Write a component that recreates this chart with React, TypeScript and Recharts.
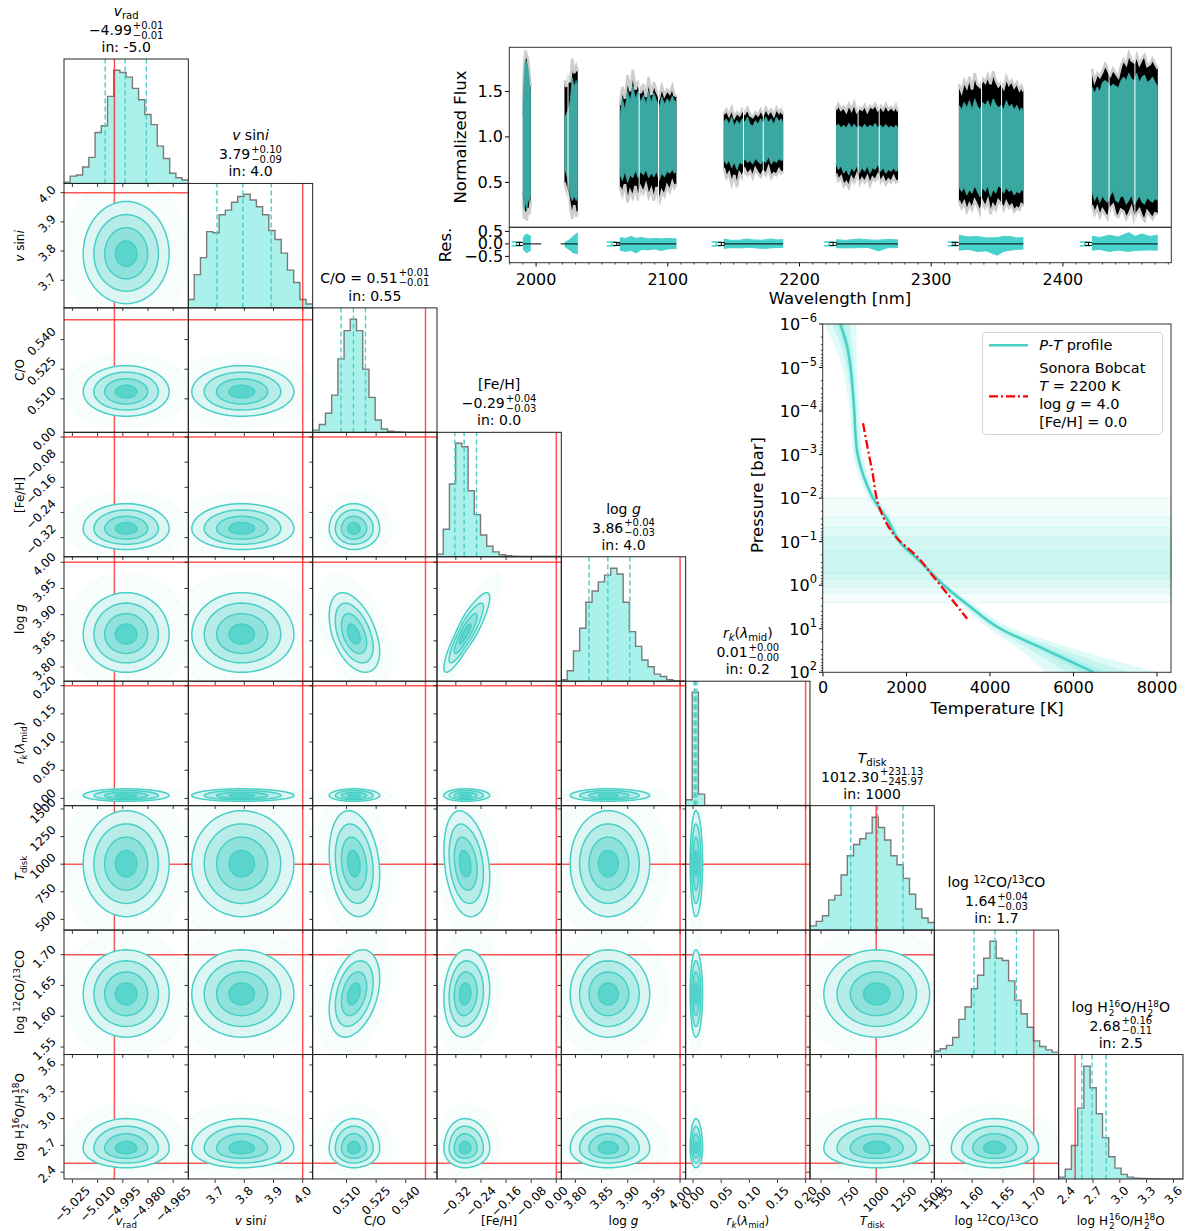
import React from 'react';
import {
  ComposedChart, ScatterChart, Area, Line, Scatter, XAxis, YAxis,
  ReferenceLine, ReferenceArea, ErrorBar,
} from 'recharts';

const FONT = '"DejaVu Sans", Verdana, sans-serif';
const TURQ = '#40E0D0';
const LINE_TURQ = '#48cfc6';
const HIST_EDGE = '#7a7a7a';
const RED = '#ff1a1a';

// ---------------- corner plot ----------------
const PARAMS = ['vrad', 'vsini', 'co', 'feh', 'logg', 'rk', 'tdisk', 'coiso', 'h2o'];

const AXIS_RANGE = [
  [-5.030, -4.956], [3.607, 4.033], [0.493, 0.556], [-0.38, 0.016], [3.7725, 4.010],
  [-0.0125, 0.2084], [400, 1527], [1.538, 1.740], [2.319, 3.711],
];
const TRUTH = [-5.0, 4.0, 0.55, 0.0, 4.0, 0.2, 1000, 1.7, 2.5];
const QUANTILES = [
  [-5.0055, -4.9936, -4.981], [3.706, 3.795, 3.892], [0.5072, 0.5135, 0.5196],
  [-0.323, -0.2935, -0.254], [3.826, 3.862, 3.904], [0.002, 0.004, 0.007],
  [769, 1012, 1243], [1.603, 1.637, 1.672], [2.574, 2.689, 2.847],
];
const TICKS = [
  [-5.025, -5.010, -4.995, -4.980, -4.965], [3.7, 3.8, 3.9, 4.0], [0.510, 0.525, 0.540],
  [-0.32, -0.24, -0.16, -0.08, 0.0], [3.80, 3.85, 3.90, 3.95, 4.00], [0.0, 0.05, 0.10, 0.15, 0.20],
  [500, 750, 1000, 1250, 1500], [1.55, 1.60, 1.65, 1.70], [2.4, 2.7, 3.0, 3.3, 3.6],
];
const DIGITS = [3, 1, 3, 2, 2, 2, 0, 2, 1];

// 20-bin histograms, relative heights (tallest = 100)
const HIST_VRAD = [1.2, 6.5, 7.4, 14.5, 23, 45, 51, 77, 100, 98, 94, 84, 74, 61, 52, 33, 22, 9, 5, 3];
const HIST_VSINI = [7, 29, 44, 67, 66, 82, 86, 93, 98, 100, 95, 89, 82, 68, 60, 48, 33, 22, 7, 3];
const HIST_CO = [2, 7, 17, 33, 65, 90, 100, 90, 56, 31, 11, 3, 1, 0.5, 0.3, 0, 0, 0, 0, 0];
const HIST_FEH = [2, 24, 64, 100, 97, 58, 37, 19, 9, 4, 1.5, 0.6, 0.3, 0, 0, 0, 0, 0, 0, 0];
const HIST_LOGG = [1.5, 9.5, 27, 47, 70, 80, 88, 94, 100, 95, 70, 44, 31, 19, 13, 6.5, 4.4, 1.5, 0.5, 0.2];
const HIST_RK = [5, 100, 10, 0, 0, 0, 0, 0, 0, 0, 0, 0, 0, 0, 0, 0, 0, 0, 0, 0];
const HIST_TDISK = [4, 8, 13, 27, 31, 49, 66, 76, 81, 86, 100, 91, 80, 66, 58, 46, 32, 19, 11, 7];
const HIST_COISO = [3, 5, 8, 15, 31, 42, 58, 70, 85, 100, 85, 83, 65, 48, 36, 24, 12, 7, 4, 2];
const HIST_H2O = [2, 9, 30, 63, 100, 81, 58, 37, 20, 10, 4.5, 2, 1.2, 0.9, 0.6, 0.4, 0.3, 0.2, 0.1, 0.1];
const HISTS = [HIST_VRAD, HIST_VSINI, HIST_CO, HIST_FEH, HIST_LOGG, HIST_RK, HIST_TDISK, HIST_COISO, HIST_H2O];

// 2D posterior summary used for the contours
const CONTOUR_CENTER = [-4.993, 3.79, 0.5136, -0.292, 3.862, 0.005, 1005, 1.636, 2.66];
const CONTOUR_SIG_LO = [0.0128, 0.085, 0.0062, 0.033, 0.036, 0.005, 240, 0.035, 0.105];
const CONTOUR_SIG_HI = [0.0128, 0.09, 0.0066, 0.040, 0.040, 0.006, 240, 0.036, 0.17];
const CORRELATIONS = [
  { x: 'feh', y: 'logg', rho: 0.88 },
  { x: 'co', y: 'logg', rho: -0.45 },
  { x: 'co', y: 'tdisk', rho: -0.2 },
  { x: 'feh', y: 'tdisk', rho: -0.25 },
  { x: 'co', y: 'coiso', rho: 0.35 },
  { x: 'feh', y: 'coiso', rho: 0.1 },
];

const MEDIAN_TEXT = ['−4.99', '3.79', '0.51', '−0.29', '3.86', '0.01', '1012.30', '1.64', '2.68'];
const ERR_UP = ['+0.01', '+0.10', '+0.01', '+0.04', '+0.04', '+0.00', '+231.13', '+0.04', '+0.16'];
const ERR_DN = ['−0.01', '−0.09', '−0.01', '−0.03', '−0.03', '−0.00', '−245.97', '−0.03', '−0.11'];
const IN_TEXT = ['-5.0', '4.0', '0.55', '0.0', '4.0', '0.2', '1000', '1.7', '2.5'];

// ---------------- spectrum ----------------
// [wavelength, data lo, data hi, model lo, model hi]
const ORDER_A = [
  [1990, 0.3, 1.4, 0.4, 1.25], [1991, 0.1, 1.8, 0.22, 1.7], [1992, 0.18, 1.95, 0.28, 1.85],
  [1993, 0.08, 1.9, 0.2, 1.8], [1994, 0.22, 1.85, 0.32, 1.75], [1995, 0.15, 1.7, 0.28, 1.6],
  [1996, 0.3, 1.55, 0.4, 1.45],
];
const ORDER_B = [
  [2021.6, 0.5, 1.62, 0.65, 1.2], [2023, 0.42, 1.55, 0.6, 1.25], [2024.5, 0.35, 1.66, 0.5, 1.3],
  [2026, 0.22, 1.6, 0.35, 1.4], [2027.5, 0.1, 1.86, 0.3, 1.65], [2029, 0.25, 1.7, 0.35, 1.55],
  [2030.5, 0.12, 1.78, 0.3, 1.62], [2031.7, 0.18, 1.72, 0.35, 1.55],
];
const ORDER_C = [
  [2063.6, 0.45, 1.35, 0.6, 1.2], [2065.5, 0.36, 1.55, 0.52, 1.42], [2067.5, 0.48, 1.42, 0.62, 1.3],
  [2069.5, 0.28, 1.68, 0.5, 1.5], [2071.5, 0.4, 1.5, 0.58, 1.4], [2073.5, 0.33, 1.74, 0.55, 1.56],
  [2075.5, 0.46, 1.52, 0.63, 1.42], [2077.5, 0.3, 1.62, 0.55, 1.5], [2079.5, 0.44, 1.48, 0.62, 1.38],
  [2081.5, 0.38, 1.58, 0.58, 1.46], [2083.5, 0.47, 1.44, 0.64, 1.36], [2085.5, 0.34, 1.66, 0.55, 1.5],
  [2087.5, 0.42, 1.46, 0.6, 1.38], [2089.5, 0.3, 1.6, 0.56, 1.48], [2091.5, 0.45, 1.5, 0.62, 1.4],
  [2093.5, 0.26, 1.44, 0.52, 1.32], [2095.5, 0.4, 1.56, 0.6, 1.44], [2097.5, 0.35, 1.46, 0.56, 1.36],
  [2099.5, 0.46, 1.52, 0.62, 1.42], [2101.5, 0.4, 1.48, 0.6, 1.38], [2103.5, 0.5, 1.56, 0.64, 1.45],
  [2105, 0.44, 1.46, 0.6, 1.4], [2106.6, 0.48, 1.45, 0.62, 1.38],
];
const ORDER_D = [
  [2142.5, 0.66, 1.25, 0.75, 1.16], [2144.5, 0.55, 1.3, 0.7, 1.2], [2146.5, 0.6, 1.24, 0.74, 1.14],
  [2148.5, 0.48, 1.32, 0.66, 1.22], [2150.5, 0.58, 1.22, 0.72, 1.12], [2152.5, 0.45, 1.27, 0.64, 1.18],
  [2154.5, 0.6, 1.24, 0.72, 1.14], [2156.5, 0.55, 1.3, 0.7, 1.2], [2158.5, 0.64, 1.26, 0.76, 1.16],
  [2160.5, 0.58, 1.32, 0.72, 1.22], [2162.5, 0.62, 1.24, 0.74, 1.14], [2164.5, 0.55, 1.22, 0.7, 1.12],
  [2166.5, 0.65, 1.27, 0.76, 1.18], [2168.5, 0.6, 1.24, 0.73, 1.14], [2170.5, 0.56, 1.3, 0.7, 1.2],
  [2172.5, 0.62, 1.25, 0.74, 1.15], [2174.5, 0.58, 1.32, 0.72, 1.22], [2176.5, 0.66, 1.26, 0.78, 1.16],
  [2178.5, 0.55, 1.3, 0.7, 1.2], [2180.5, 0.6, 1.24, 0.74, 1.14], [2182.5, 0.58, 1.32, 0.72, 1.22],
  [2184.5, 0.64, 1.27, 0.76, 1.17], [2186, 0.6, 1.3, 0.74, 1.2], [2187.6, 0.62, 1.25, 0.75, 1.15],
];
const ORDER_E = [
  [2227.7, 0.6, 1.3, 0.7, 1.12], [2229.5, 0.52, 1.36, 0.64, 1.14], [2231.5, 0.56, 1.3, 0.68, 1.1],
  [2233.5, 0.46, 1.33, 0.6, 1.13], [2235.5, 0.5, 1.28, 0.64, 1.1], [2237.5, 0.44, 1.36, 0.58, 1.15],
  [2239.5, 0.55, 1.3, 0.66, 1.1], [2241.5, 0.5, 1.38, 0.62, 1.14], [2243.5, 0.58, 1.28, 0.68, 1.1],
  [2245.5, 0.48, 1.32, 0.6, 1.12], [2247.5, 0.54, 1.3, 0.66, 1.1], [2249.5, 0.5, 1.35, 0.62, 1.14],
  [2251.5, 0.56, 1.28, 0.68, 1.1], [2253.5, 0.47, 1.34, 0.6, 1.13], [2255.5, 0.55, 1.32, 0.66, 1.11],
  [2257.5, 0.52, 1.36, 0.64, 1.15], [2259.5, 0.58, 1.3, 0.7, 1.1], [2261.5, 0.5, 1.34, 0.62, 1.13],
  [2263.5, 0.55, 1.3, 0.66, 1.1], [2265.5, 0.48, 1.36, 0.6, 1.14], [2267.5, 0.53, 1.3, 0.64, 1.1],
  [2269.5, 0.5, 1.33, 0.62, 1.12], [2271.5, 0.56, 1.3, 0.66, 1.1], [2273.2, 0.5, 1.35, 0.62, 1.13],
  [2274.8, 0.52, 1.28, 0.64, 1.1],
];
const ORDER_F = [
  [2321, 0.3, 1.58, 0.45, 1.35], [2323, 0.22, 1.5, 0.4, 1.3], [2325, 0.28, 1.62, 0.44, 1.38],
  [2327, 0.18, 1.55, 0.36, 1.32], [2329, 0.26, 1.66, 0.42, 1.4], [2331, 0.2, 1.52, 0.38, 1.3],
  [2333, 0.3, 1.7, 0.46, 1.42], [2335, 0.24, 1.58, 0.4, 1.34], [2337, 0.16, 1.55, 0.34, 1.3],
  [2339, 0.28, 1.64, 0.44, 1.38], [2341, 0.22, 1.6, 0.4, 1.35], [2343, 0.3, 1.68, 0.46, 1.4],
  [2345, 0.15, 1.58, 0.34, 1.32], [2347, 0.25, 1.72, 0.42, 1.42], [2349, 0.2, 1.62, 0.38, 1.36],
  [2351, 0.3, 1.56, 0.46, 1.32], [2353, 0.26, 1.6, 0.44, 1.35], [2355, 0.2, 1.54, 0.38, 1.3],
  [2357, 0.28, 1.66, 0.44, 1.4], [2359, 0.22, 1.58, 0.4, 1.33], [2361, 0.25, 1.62, 0.42, 1.36],
  [2363, 0.18, 1.55, 0.36, 1.3], [2365, 0.22, 1.6, 0.4, 1.35], [2367, 0.2, 1.52, 0.38, 1.28],
  [2368.5, 0.26, 1.56, 0.42, 1.32], [2370, 0.24, 1.5, 0.4, 1.28],
];
const ORDER_G = [
  [2422, 0.25, 1.75, 0.4, 1.55], [2424, 0.15, 1.62, 0.3, 1.48], [2426, 0.22, 1.7, 0.36, 1.55],
  [2428, 0.12, 1.66, 0.28, 1.5], [2430, 0.2, 1.72, 0.35, 1.6], [2432, 0.15, 1.8, 0.3, 1.62],
  [2434, 0.1, 1.74, 0.28, 1.6], [2436, 0.22, 1.68, 0.36, 1.55], [2438, 0.25, 1.75, 0.4, 1.58],
  [2440, 0.14, 1.7, 0.3, 1.56], [2442, 0.12, 1.66, 0.28, 1.54], [2444, 0.2, 1.78, 0.35, 1.62],
  [2446, 0.18, 1.85, 0.34, 1.66], [2448, 0.1, 1.8, 0.26, 1.62], [2450, 0.15, 1.92, 0.3, 1.7],
  [2452, 0.22, 1.84, 0.36, 1.64], [2454, 0.08, 1.82, 0.25, 1.62], [2456, 0.16, 1.9, 0.3, 1.7],
  [2458, 0.2, 1.8, 0.35, 1.6], [2460, 0.12, 1.86, 0.28, 1.66], [2462, 0.08, 1.9, 0.26, 1.68],
  [2464, 0.18, 1.78, 0.33, 1.6], [2466, 0.14, 1.8, 0.3, 1.62], [2468, 0.1, 1.86, 0.28, 1.66],
  [2470, 0.16, 1.8, 0.32, 1.6], [2472, 0.15, 1.75, 0.3, 1.55],
];
const ORDERS = [ORDER_A, ORDER_B, ORDER_C, ORDER_D, ORDER_E, ORDER_F, ORDER_G];
const DETECTOR_GAPS = [2024.3, 2078.3, 2093, 2157.5, 2172.5, 2244.5, 2260.5, 2338.2, 2353.4, 2435, 2454.6];

// residuals: [wavelength, lo, hi]
const RESID = [
  [[1990, -0.2, 0.2], [1991.5, -0.3, 0.35], [1993, -0.35, 0.4], [1994.5, -0.3, 0.35], [1996, -0.25, 0.3]],
  [[2021.6, -0.1, 0.05], [2025, -0.22, 0.15], [2028, -0.35, 0.3], [2031.7, -0.4, 0.45]],
  [[2063.6, -0.25, 0.25], [2068, -0.3, 0.22], [2072, -0.26, 0.3], [2076, -0.36, 0.22], [2080, -0.22, 0.26], [2085, -0.24, 0.2], [2090, -0.2, 0.22], [2095, -0.26, 0.2], [2100, -0.2, 0.22], [2106.6, -0.18, 0.2]],
  [[2142.5, -0.18, 0.2], [2148, -0.15, 0.14], [2155, -0.16, 0.15], [2160, -0.14, 0.2], [2165, -0.15, 0.16], [2172, -0.18, 0.15], [2178, -0.16, 0.2], [2183, -0.14, 0.16], [2187.6, -0.15, 0.17]],
  [[2227.7, -0.15, 0.17], [2235, -0.16, 0.14], [2245, -0.15, 0.2], [2252, -0.14, 0.16], [2260, -0.28, 0.15], [2267, -0.15, 0.18], [2274.8, -0.15, 0.16]],
  [[2321, -0.25, 0.35], [2328, -0.22, 0.28], [2335, -0.3, 0.3], [2342, -0.28, 0.24], [2350, -0.45, 0.25], [2355, -0.3, 0.3], [2360, -0.25, 0.3], [2365, -0.22, 0.24], [2370, -0.2, 0.25]],
  [[2422, -0.25, 0.3], [2428, -0.22, 0.26], [2435, -0.3, 0.35], [2442, -0.25, 0.28], [2450, -0.3, 0.45], [2455, -0.26, 0.3], [2460, -0.25, 0.4], [2466, -0.24, 0.3], [2472, -0.25, 0.35]],
];
const ZERO_SEGMENTS = [[1990, 2004], [2018.6, 2031.7], [2062, 2106.6], [2142.5, 2187.6], [2227.7, 2274.8], [2321, 2370], [2422, 2472]];
const ERR_DATA = [1987.4, 2061.2, 2140.7, 2225.5, 2318.2, 2419.4];
const ERR_MODEL = [1985.2, 2057.4, 2137, 2222.5, 2316.2, 2416.6];

// ---------------- P-T profile ----------------
const PT_P = [1e-6, 3.16e-6, 1e-5, 3.16e-5, 1e-4, 3.16e-4, 1e-3, 3.16e-3, 1e-2, 3.16e-2, 0.1, 0.316, 1, 3.16, 10, 31.6, 100];
const PT_T = [415, 575, 660, 710, 750, 775, 830, 975, 1200, 1549, 1833, 2374, 2894, 3532, 4251, 5372, 6489];
const PT_1SIG = [[330, 520], [500, 640], [610, 705], [680, 745], [720, 785], [745, 810], [795, 865], [945, 1005], [1170, 1230], [1525, 1575], [1810, 1858], [2352, 2398], [2870, 2918], [3495, 3570], [4190, 4315], [5220, 5530], [6200, 6800]];
const PT_2SIG = [[220, 640], [420, 700], [560, 750], [640, 780], [690, 815], [720, 840], [760, 900], [910, 1040], [1135, 1265], [1495, 1605], [1788, 1880], [2330, 2420], [2845, 2945], [3445, 3625], [4100, 4410], [5000, 5780], [5820, 7330]];
const PT_3SIG = [[40, 810], [280, 800], [460, 820], [560, 850], [640, 880], [680, 910], [720, 950], [860, 1090], [1090, 1310], [1455, 1645], [1760, 1912], [2300, 2450], [2815, 2975], [3380, 3700], [3980, 4560], [4750, 6150], [5330, 8050]];
const SONORA_P = [1.9e-4, 2.3e-3, 1.9e-2, 8.3e-2, 0.22, 0.65, 1.55, 5.9];
const SONORA_T = [958, 1175, 1374, 1774, 2254, 2652, 2973, 3453];
const CONTRIB_BANDS = [[0.01, 2.5], [0.027, 1.55], [0.046, 1.1], [0.078, 0.74], [0.16, 0.54]];

// ---------------- geometry ----------------
const X0 = 64, Y0 = 59, CW = 124.33, CH = 124.44;
const px = (c: number) => X0 + c * CW;
const py = (r: number) => Y0 + r * CH;
const M0 = { top: 0, right: 0, bottom: 0, left: 0 };

const fmt = (v: number, d: number) => v.toFixed(d).replace('-', '−');
const charW = (ch: string) => (ch === '.' ? 0.318 : ch === '−' ? 0.838 : 0.636);
const textW = (s: string, fs: number) => [...s].reduce((a, ch) => a + charW(ch), 0) * fs;

const xTick = (label: boolean, digits: number) => (p: any) => {
  const txt = fmt(p.payload.value, digits);
  const bb = (textW(txt, 12) + 9) * 0.7071;
  const cy = p.y + 6 + bb / 2;
  return (
    <g>
      <line x1={p.x} x2={p.x} y1={p.y} y2={p.y + 3.5} stroke="#000" strokeWidth={0.8} />
      {label && (
        <text x={p.x} y={cy} transform={`rotate(-45 ${p.x} ${cy})`} textAnchor="middle"
          dominantBaseline="central" fontSize={12} fontFamily={FONT} fill="#000">{txt}</text>
      )}
    </g>
  );
};
const yTick = (label: boolean, digits: number) => (p: any) => {
  const txt = fmt(p.payload.value, digits);
  const bb = (textW(txt, 12) + 9) * 0.7071;
  const cx = p.x - 7 - bb / 2;
  const cy = p.y + 2;
  return (
    <g>
      <line x1={p.x} x2={p.x - 3.5} y1={p.y} y2={p.y} stroke="#000" strokeWidth={0.8} />
      {label && (
        <text x={cx} y={cy} transform={`rotate(-45 ${cx} ${cy})`} textAnchor="middle"
          dominantBaseline="central" fontSize={12} fontFamily={FONT} fill="#000">{txt}</text>
      )}
    </g>
  );
};

function HistPanel({ i }: { i: number }) {
  const [lo, hi] = AXIS_RANGE[i];
  const counts = HISTS[i];
  const step = (hi - lo) / counts.length;
  const data = counts.map((h, k) => ({ x: lo + k * step, h }));
  data.push({ x: hi, h: counts[counts.length - 1] });
  return (
    <ComposedChart width={CW + 1} height={CH + 1} data={data} margin={M0}>
      <XAxis type="number" dataKey="x" domain={[lo, hi]} ticks={TICKS[i]} height={1} interval={0}
        axisLine={false} tickLine={false} tickSize={0} tickMargin={0} tick={xTick(i === 8, DIGITS[i])} allowDataOverflow />
      <YAxis type="number" domain={[0, 110]} width={1} axisLine={false} tickLine={false} tick={false} allowDataOverflow />
      <Area type="stepAfter" dataKey="h" stroke={HIST_EDGE} strokeWidth={1.4} fill={TURQ} fillOpacity={0.45}
        isAnimationActive={false} />
      {QUANTILES[i].map((q) => (
        <ReferenceLine key={q} x={q} stroke={LINE_TURQ} strokeDasharray="5 3" strokeWidth={1.4} />
      ))}
      <ReferenceLine x={TRUTH[i]} stroke={RED} strokeOpacity={0.75} strokeWidth={1.5} />
    </ComposedChart>
  );
}

const LEVELS = [
  { k: 3.0, fill: 'url(#pts)', stroke: 'none' },
  { k: 2.0, fill: '#ddf6f3', stroke: LINE_TURQ },
  { k: 1.5, fill: '#b6ece7', stroke: LINE_TURQ },
  { k: 1.0, fill: '#8ee2db', stroke: LINE_TURQ },
  { k: 0.5, fill: '#5ad5cc', stroke: LINE_TURQ },
];

function ContourGlyph({ cx, cy, sx, sy, rho }: any) {
  if (cx == null || cy == null) return null;
  const root = Math.sqrt(1 - rho * rho);
  const path = (k: number) => {
    const pts: string[] = [];
    for (let j = 0; j < 72; j++) {
      const t = (j / 72) * Math.PI * 2;
      const u = Math.cos(t);
      const v = rho * u + root * Math.sin(t);
      const dx = k * u * (u < 0 ? sx[0] : sx[1]);
      const dy = k * v * (v < 0 ? sy[0] : sy[1]);
      pts.push(`${(cx + dx).toFixed(2)},${(cy - dy).toFixed(2)}`);
    }
    return 'M' + pts.join('L') + 'Z';
  };
  return (
    <g>
      {LEVELS.map((l) => (
        <path key={l.k} d={path(l.k)} fill={l.fill} stroke={l.stroke} strokeWidth={1.5} />
      ))}
    </g>
  );
}

function PairPanel({ r, c }: { r: number; c: number }) {
  const [xl, xh] = AXIS_RANGE[c];
  const [yl, yh] = AXIS_RANGE[r];
  const kx = CW / (xh - xl);
  const ky = CH / (yh - yl);
  const cor = CORRELATIONS.find((q) => q.x === PARAMS[c] && q.y === PARAMS[r]);
  const rho = cor ? cor.rho : 0;
  const data = [{ x: CONTOUR_CENTER[c], y: CONTOUR_CENTER[r] }];
  const shape = (p: any) => (
    <ContourGlyph cx={p.cx} cy={p.cy} rho={rho}
      sx={[CONTOUR_SIG_LO[c] * kx, CONTOUR_SIG_HI[c] * kx]}
      sy={[CONTOUR_SIG_LO[r] * ky, CONTOUR_SIG_HI[r] * ky]} />
  );
  return (
    <ScatterChart width={CW + 1} height={CH + 1} margin={M0}>
      <XAxis type="number" dataKey="x" domain={[xl, xh]} ticks={TICKS[c]} height={1} interval={0}
        axisLine={false} tickLine={false} tickSize={0} tickMargin={0} tick={xTick(r === 8, DIGITS[c])} allowDataOverflow />
      <YAxis type="number" dataKey="y" domain={[yl, yh]} ticks={TICKS[r]} width={1} interval={0}
        axisLine={false} tickLine={false} tickSize={0} tickMargin={0} tick={yTick(c === 0, DIGITS[r])} allowDataOverflow />
      <Scatter data={data} shape={shape} isAnimationActive={false} />
      <ReferenceLine x={TRUTH[c]} stroke={RED} strokeOpacity={0.75} strokeWidth={1.5} />
      <ReferenceLine y={TRUTH[r]} stroke={RED} strokeOpacity={0.75} strokeWidth={1.5} />
    </ScatterChart>
  );
}

// ---------------- spectrum panels ----------------
const SPEC_W = 663, SPEC_H = 181, RES_H = 36.4;
const SPEC_DOMAIN = [1979.5, 2482];

const specYTick = (p: any) => (
  <g>
    <line x1={p.x} x2={p.x - 4} y1={p.y} y2={p.y} stroke="#000" />
    <text x={p.x - 6} y={p.y + 5.5} textAnchor="end" fontSize={16} fontFamily={FONT} fill="#000">
      {fmt(p.payload.value, 1)}
    </text>
  </g>
);
const RES_XTICKS: number[] = [];
for (let w = 1980; w <= 2480; w += 10) RES_XTICKS.push(w);
const resXTick = (p: any) => {
  const major = p.payload.value % 100 === 0;
  return (
    <g>
      <line x1={p.x} x2={p.x} y1={p.y} y2={p.y + (major ? 4 : 2.2)} stroke="#000" strokeWidth={major ? 1 : 0.7} />
      {major && (
        <text x={p.x} y={p.y + 22.3} textAnchor="middle" fontSize={16} fontFamily={FONT} fill="#000">
          {p.payload.value}
        </text>
      )}
    </g>
  );
};

function SpectrumPanel() {
  return (
    <ComposedChart width={SPEC_W} height={SPEC_H} margin={M0}>
      <XAxis type="number" dataKey="w" domain={SPEC_DOMAIN} height={1} tick={false} axisLine={false} tickLine={false} allowDataOverflow />
      <YAxis type="number" domain={[0.01, 1.988]} ticks={[0.5, 1.0, 1.5]} width={1} interval={0}
        axisLine={false} tickLine={false} tickSize={0} tickMargin={0} tick={specYTick} allowDataOverflow />
      {ORDERS.map((o, i) => (
        <Area key={'d' + i} data={o.map((q) => ({ w: q[0], flux: [q[1], q[2]] }))} dataKey="flux"
          type="linear" fill="#000" fillOpacity={1} stroke="#cdcdcd" strokeWidth={2.6} isAnimationActive={false} />
      ))}
      {ORDERS.map((o, i) => (
        <Area key={'m' + i} data={o.map((q) => ({ w: q[0], model: [q[3], q[4]] }))} dataKey="model"
          type="linear" fill="#3aa8a1" fillOpacity={1} stroke="#3aa8a1" strokeWidth={0.8} isAnimationActive={false} />
      ))}
      {DETECTOR_GAPS.map((w) => (
        <ReferenceLine key={w} x={w} stroke="#ffffff" strokeWidth={1} />
      ))}
    </ComposedChart>
  );
}

function ResidualPanel() {
  return (
    <ComposedChart width={SPEC_W} height={RES_H} margin={M0}>
      <XAxis type="number" dataKey="w" domain={SPEC_DOMAIN} ticks={RES_XTICKS} height={1} interval={0}
        axisLine={false} tickLine={false} tickSize={0} tickMargin={0} tick={resXTick} allowDataOverflow />
      <YAxis type="number" dataKey="y" domain={[-0.74, 0.676]} ticks={[0.5, 0.0, -0.5]} width={1} interval={0}
        axisLine={false} tickLine={false} tickSize={0} tickMargin={0} tick={specYTick} allowDataOverflow />
      {RESID.map((o, i) => (
        <Area key={'r' + i} data={o.map((q) => ({ w: q[0], res: [q[1], q[2]] }))} dataKey="res"
          type="linear" fill="#48d1cc" fillOpacity={1} stroke="#48d1cc" strokeWidth={1} isAnimationActive={false} />
      ))}
      {ZERO_SEGMENTS.map((s, i) => (
        <Line key={'z' + i} data={[{ w: s[0], z: 0 }, { w: s[1], z: 0 }]} dataKey="z" stroke="#000"
          strokeWidth={1} dot={false} isAnimationActive={false} />
      ))}
      <Scatter data={ERR_MODEL.map((w) => ({ w, y: 0, e: 0.075 }))} shape={() => <g />} isAnimationActive={false}>
        <ErrorBar dataKey="e" direction="y" width={5} stroke="#48d1cc" strokeWidth={1.6} />
      </Scatter>
      <Scatter data={ERR_DATA.map((w) => ({ w, y: 0, e: 0.06 }))} shape={() => <g />} isAnimationActive={false}>
        <ErrorBar dataKey="e" direction="y" width={3.5} stroke="#000" strokeWidth={1} />
      </Scatter>
    </ComposedChart>
  );
}

// ---------------- P-T panel ----------------
const PT_SIZE = 349.3;
const PT_YTICKS: number[] = [];
for (let e = -6; e <= 2; e++) {
  for (let m = 1; m <= 9; m++) {
    if (e === 2 && m > 1) break;
    PT_YTICKS.push(m * Math.pow(10, e));
  }
}
const ptYTick = (p: any) => {
  const lg = Math.log10(p.payload.value);
  const major = Math.abs(lg - Math.round(lg)) < 1e-6;
  return (
    <g>
      <line x1={p.x} x2={p.x - (major ? 4 : 2.2)} y1={p.y} y2={p.y} stroke="#000" strokeWidth={major ? 1 : 0.7} />
      {major && (
        <text x={p.x - 6} y={p.y + 6} textAnchor="end" fontSize={16} fontFamily={FONT} fill="#000">
          <tspan>10</tspan>
          <tspan dy={-8} fontSize={11.5}>{fmt(Math.round(lg), 0)}</tspan>
        </text>
      )}
    </g>
  );
};
const ptXTick = (p: any) => (
  <g>
    <line x1={p.x} x2={p.x} y1={p.y} y2={p.y + 4} stroke="#000" />
    <text x={p.x} y={p.y + 21} textAnchor="middle" fontSize={16} fontFamily={FONT} fill="#000">{p.payload.value}</text>
  </g>
);

function PTPanel() {
  const rows = PT_P.map((p, k) => ({ p, t: PT_T[k], s1: PT_1SIG[k], s2: PT_2SIG[k], s3: PT_3SIG[k] }));
  const sonora = SONORA_P.map((p, k) => ({ p, t: SONORA_T[k] }));
  return (
    <ComposedChart layout="vertical" width={PT_SIZE} height={PT_SIZE} data={rows} margin={M0}>
      <XAxis type="number" domain={[0, 8343]} ticks={[0, 2000, 4000, 6000, 8000]} height={1} interval={0}
        axisLine={false} tickLine={false} tickSize={0} tickMargin={0} tick={ptXTick} allowDataOverflow />
      <YAxis type="number" dataKey="p" scale="log" domain={[1e-6, 100]} ticks={PT_YTICKS} width={1} interval={0}
        axisLine={false} tickLine={false} tickSize={0} tickMargin={0} tick={ptYTick} allowDataOverflow />
      {CONTRIB_BANDS.map((b) => (
        <ReferenceArea key={b[0]} y1={b[0]} y2={b[1]} fill={TURQ} fillOpacity={0.06} stroke={TURQ} strokeOpacity={0.18} strokeWidth={0.8} />
      ))}
      <Area dataKey="s3" type="monotone" fill={TURQ} fillOpacity={0.16} stroke="none" isAnimationActive={false} />
      <Area dataKey="s2" type="monotone" fill={TURQ} fillOpacity={0.16} stroke="none" isAnimationActive={false} />
      <Area dataKey="s1" type="monotone" fill={TURQ} fillOpacity={0.2} stroke="none" isAnimationActive={false} />
      <Line dataKey="t" type="monotone" stroke={LINE_TURQ} strokeWidth={2.5} dot={false} isAnimationActive={false} />
      <Line data={sonora} dataKey="t" type="monotone" stroke="#ff0000" strokeWidth={2.3} strokeDasharray="9 3 2 3"
        dot={false} isAnimationActive={false} />
    </ComposedChart>
  );
}

// ---------------- text helpers ----------------
function Stack({ sup, sub, size = 10, lift = 6.5 }: any) {
  return (
    <span style={{
      display: 'inline-flex', flexDirection: 'column', fontSize: size, lineHeight: `${size}px`,
      position: 'relative', top: -lift, textAlign: 'left', marginLeft: 1,
    }}>
      <span>{sup}</span>
      <span>{sub}</span>
    </span>
  );
}
const Sub = ({ children }: any) => <span style={{ fontSize: '0.72em', position: 'relative', top: '0.3em' }}>{children}</span>;
const Sup = ({ children }: any) => <span style={{ fontSize: '0.72em', position: 'relative', top: '-0.45em' }}>{children}</span>;

const LABELS = [
  <><i>v</i><Sub>rad</Sub></>,
  <><i>v</i> sin<i>i</i></>,
  <>C/O</>,
  <>[Fe/H]</>,
  <>log <i>g</i></>,
  <><i>r</i><Sub><i>k</i></Sub>(<i>λ</i><Sub>mid</Sub>)</>,
  <><i>T</i><Sub>disk</Sub></>,
  <>log <Sup>12</Sup>CO/<Sup>13</Sup>CO</>,
  <>log H<Stack sup="16" sub="2" size={9} lift={5} />O/H<Stack sup="18" sub="2" size={9} lift={5} />O</>,
];

function TextAt({ cx, cy, size, rotate = false, children, w = 300 }: any) {
  return (
    <div style={{
      position: 'absolute', left: cx - w / 2, top: cy - 10, width: w, height: 20, lineHeight: '20px',
      textAlign: 'center', fontSize: size, whiteSpace: 'nowrap',
      transform: rotate ? 'rotate(-90deg)' : undefined,
    }}>{children}</div>
  );
}

function Titles() {
  return (
    <>
      {PARAMS.map((_, i) => {
        const cx = px(i) + CW / 2;
        const top = py(i);
        const value = <>{MEDIAN_TEXT[i]}<Stack sup={ERR_UP[i]} sub={ERR_DN[i]} /></>;
        if (i === 2) {
          return (
            <React.Fragment key={i}>
              <TextAt cx={cx} cy={top - 30} size={14}>C/O = {value}</TextAt>
              <TextAt cx={cx} cy={top - 12} size={14}>in: {IN_TEXT[i]}</TextAt>
            </React.Fragment>
          );
        }
        return (
          <React.Fragment key={i}>
            <TextAt cx={cx} cy={top - 48} size={14}>{LABELS[i]}</TextAt>
            <TextAt cx={cx} cy={top - 29} size={14}>{value}</TextAt>
            <TextAt cx={cx} cy={top - 12} size={14}>in: {IN_TEXT[i]}</TextAt>
          </React.Fragment>
        );
      })}
      {PARAMS.map((_, i) => (
        <TextAt key={'b' + i} cx={px(i) + CW / 2} cy={1221} size={12} w={140}>{LABELS[i]}</TextAt>
      ))}
      {PARAMS.map((_, i) => (i === 0 ? null : (
        <TextAt key={'l' + i} cx={20} cy={py(i) + CH / 2} size={12} w={120} rotate>{LABELS[i]}</TextAt>
      )))}
    </>
  );
}

function Frames() {
  const rects: any[] = [];
  for (let r = 0; r < 9; r++) {
    for (let c = 0; c <= r; c++) rects.push({ x: px(c), y: py(r), w: CW, h: CH, s: '#222' });
  }
  rects.push({ x: 509.3, y: 47.3, w: 662, h: 180, s: '#333' });
  rects.push({ x: 509.3, y: 227.3, w: 662, h: 35.4, s: '#333' });
  rects.push({ x: 822.7, y: 324, w: 348.3, h: 348.3, s: '#333' });
  return (
    <svg width={1189} height={1231} style={{ position: 'absolute', left: 0, top: 0, pointerEvents: 'none' }}>
      {rects.map((q, k) => (
        <rect key={k} x={q.x} y={q.y} width={q.w} height={q.h} fill="none" stroke={q.s} strokeWidth={1} />
      ))}
    </svg>
  );
}

function Legend() {
  return (
    <div style={{
      position: 'absolute', left: 981.7, top: 331.7, width: 181.6, height: 103.3, boxSizing: 'border-box',
      border: '1px solid #d4d4d4', borderRadius: 4, background: 'rgba(255,255,255,0.85)', fontSize: 14.5,
    }}>
      <svg width={60} height={100} style={{ position: 'absolute', left: 0, top: 0 }}>
        <line x1={6} x2={45} y1={12.3} y2={12.3} stroke={LINE_TURQ} strokeWidth={2.5} />
        <line x1={6} x2={45} y1={63.3} y2={63.3} stroke="#ff0000" strokeWidth={2.3} strokeDasharray="9 3 2 3" />
      </svg>
      {[
        [12.3, <><i>P</i>-<i>T</i> profile</>],
        [35.3, <>Sonora Bobcat</>],
        [53.3, <><i>T</i> = 2200 K</>],
        [71.3, <>log <i>g</i> = 4.0</>],
        [89.3, <>[Fe/H] = 0.0</>],
      ].map(([y, t]: any, k) => (
        <div key={k} style={{ position: 'absolute', left: 56.5, top: y - 9, height: 18, lineHeight: '18px', whiteSpace: 'nowrap' }}>{t}</div>
      ))}
    </div>
  );
}

function Box({ left, top, children }: any) {
  return <div style={{ position: 'absolute', left, top }}>{children}</div>;
}

export default function App() {
  const pairs: number[][] = [];
  for (let r = 1; r < 9; r++) for (let c = 0; c < r; c++) pairs.push([r, c]);
  return (
    <div style={{
      position: 'absolute', left: 0, top: 0, width: 1189, height: 1231, background: '#fff',
      fontFamily: FONT, color: '#000', overflow: 'hidden',
    }}>
      <style>{'.recharts-surface{overflow:visible}'}</style>
      <svg width={0} height={0} style={{ position: 'absolute' }}>
        <defs>
          <pattern id="pts" width={9} height={9} patternUnits="userSpaceOnUse">
            <rect width={9} height={9} fill="#40E0D0" fillOpacity={0.03} />
            <circle cx={2} cy={3} r={0.6} fill="#40E0D0" fillOpacity={0.3} />
            <circle cx={6.5} cy={7} r={0.6} fill="#40E0D0" fillOpacity={0.3} />
            <circle cx={7.2} cy={1.4} r={0.5} fill="#40E0D0" fillOpacity={0.22} />
          </pattern>
        </defs>
      </svg>
      {PARAMS.map((_, i) => (
        <Box key={'h' + i} left={px(i) - 1} top={py(i)}><HistPanel i={i} /></Box>
      ))}
      {pairs.map(([r, c]) => (
        <Box key={`p${r}-${c}`} left={px(c) - 1} top={py(r)}><PairPanel r={r} c={c} /></Box>
      ))}
      <Box left={508.3} top={47.3}><SpectrumPanel /></Box>
      <Box left={508.3} top={227.3}><ResidualPanel /></Box>
      <Box left={821.7} top={324}><PTPanel /></Box>
      <Frames />
      <Titles />
      <TextAt cx={461} cy={137} size={16.5} w={150} rotate>Normalized Flux</TextAt>
      <TextAt cx={446} cy={245} size={16.5} w={50} rotate>Res.</TextAt>
      <TextAt cx={840} cy={299} size={16.5} w={160}>Wavelength [nm]</TextAt>
      <TextAt cx={758} cy={495} size={16.5} w={130} rotate>Pressure [bar]</TextAt>
      <TextAt cx={997} cy={709} size={16.5} w={160}>Temperature [K]</TextAt>
      <Legend />
    </div>
  );
}
